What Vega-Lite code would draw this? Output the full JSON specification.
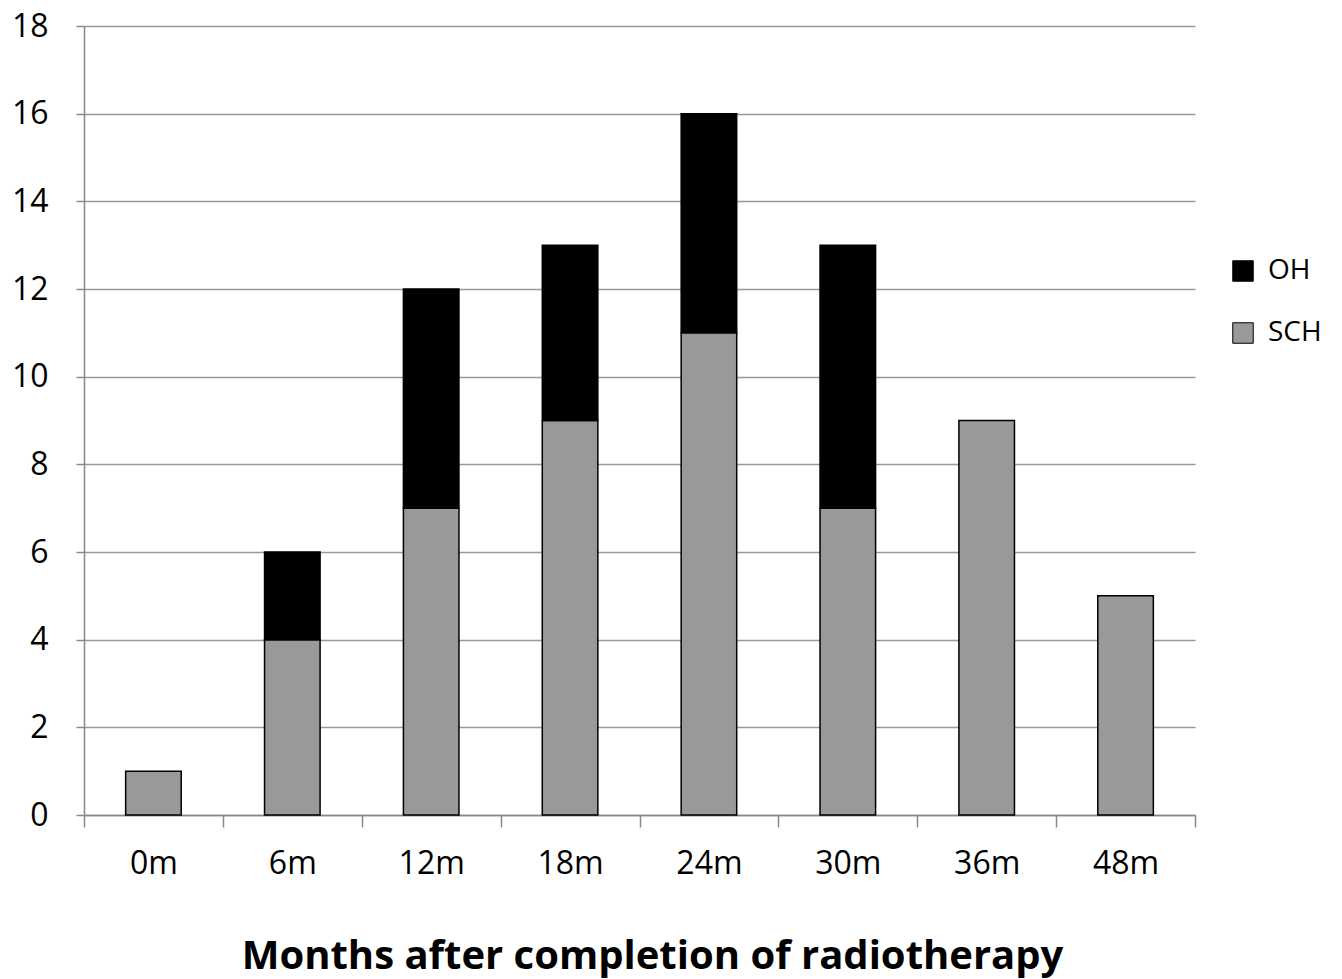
{
  "$schema": "https://vega.github.io/schema/vega-lite/v6.json",
  "width": 1111,
  "height": 789,
  "autosize": "none",
  "padding": {"left": 84, "top": 26, "right": 147, "bottom": 164},
  "background": "white",
  "config": {
    "font": "Open Sans",
    "view": {"stroke": null}
  },
  "data": {
    "values": [
      {"month": "0m", "type": "SCH", "count": 1, "ord": 1},
      {"month": "6m", "type": "SCH", "count": 4, "ord": 1},
      {"month": "6m", "type": "OH", "count": 2, "ord": 2},
      {"month": "12m", "type": "SCH", "count": 7, "ord": 1},
      {"month": "12m", "type": "OH", "count": 5, "ord": 2},
      {"month": "18m", "type": "SCH", "count": 9, "ord": 1},
      {"month": "18m", "type": "OH", "count": 4, "ord": 2},
      {"month": "24m", "type": "SCH", "count": 11, "ord": 1},
      {"month": "24m", "type": "OH", "count": 5, "ord": 2},
      {"month": "30m", "type": "SCH", "count": 7, "ord": 1},
      {"month": "30m", "type": "OH", "count": 6, "ord": 2},
      {"month": "36m", "type": "SCH", "count": 9, "ord": 1},
      {"month": "48m", "type": "SCH", "count": 5, "ord": 1}
    ]
  },
  "mark": {"type": "bar", "stroke": "black", "strokeWidth": 1.5, "width": {"band": 0.4}},
  "encoding": {
    "x": {
      "field": "month",
      "type": "nominal",
      "sort": ["0m", "6m", "12m", "18m", "24m", "30m", "36m", "48m"],
      "scale": {"paddingInner": 0, "paddingOuter": 0},
      "axis": {
        "title": "Months after completion of radiotherapy",
        "titleFontSize": 40,
        "titleFontWeight": "bold",
        "titleColor": "black",
        "titleBaseline": "alphabetic",
        "titleX": 568,
        "titleY": 153,
        "labelAngle": 0,
        "labelFontSize": 32,
        "labelColor": "black",
        "labelPadding": 21,
        "tickBand": "extent",
        "tickSize": 12,
        "tickColor": "#888888",
        "domainColor": "#888888",
        "domainWidth": 1.5,
        "tickWidth": 1.5
      }
    },
    "y": {
      "field": "count",
      "type": "quantitative",
      "stack": "zero",
      "scale": {"domain": [0, 18]},
      "axis": {
        "title": null,
        "values": [0, 2, 4, 6, 8, 10, 12, 14, 16, 18],
        "labelFontSize": 32,
        "labelColor": "black",
        "labelPadding": 28,
        "tickSize": 8,
        "tickColor": "#888888",
        "tickWidth": 1.5,
        "domainColor": "#888888",
        "domainWidth": 1.5,
        "gridColor": "#999999",
        "gridWidth": 1.5
      }
    },
    "color": {
      "field": "type",
      "type": "nominal",
      "scale": {"domain": ["OH", "SCH"], "range": ["#000000", "#999999"]},
      "legend": {
        "title": null,
        "orient": "none",
        "legendX": 1145,
        "legendY": 231,
        "symbolType": "square",
        "symbolSize": 420,
        "symbolStrokeColor": "black",
        "symbolStrokeWidth": 1,
        "labelFontSize": 28,
        "labelColor": "black",
        "labelOffset": 11,
        "rowPadding": 34
      }
    },
    "order": {"field": "ord", "type": "quantitative"}
  }
}
